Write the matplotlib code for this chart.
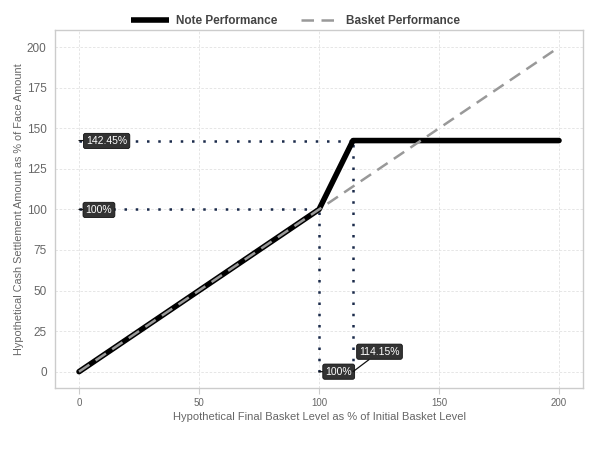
import matplotlib
matplotlib.use("Agg")
import matplotlib.pyplot as plt

plt.rcParams['font.family'] = ['Liberation Sans', 'DejaVu Sans']

# Data
basket_x = [0, 200]
basket_y = [0, 200]
note_x = [0, 100, 114.15, 200]
note_y = [0, 100, 142.45, 142.45]
cap_level = 114.15
cap_return = 142.45
par_level = 100
par_return = 100
x_ticks = [0, 50, 100, 150, 200]
y_ticks = [0, 25, 50, 75, 100, 125, 150, 175, 200]

fig = plt.figure(figsize=(6, 4.5), dpi=100)
ax = fig.add_axes([0.0917, 0.138, 0.88, 0.795])

grid_c = '#e2e2e2'
ax.set_xlim(-10, 210)
ax.set_ylim(-10, 210.5)
ax.set_xticks(x_ticks)
ax.set_yticks(y_ticks)
ax.grid(True, color=grid_c, linestyle=(0, (3, 2)), linewidth=0.6)
ax.set_axisbelow(True)
for s in ax.spines.values():
    s.set_color('#cccccc')
    s.set_linewidth(1.0)
ax.tick_params(axis='x', length=4, color='#cccccc', labelsize=7, labelcolor='#666666', pad=3)
ax.tick_params(axis='y', length=0, labelsize=8.5, labelcolor='#666666', pad=6)

dot_c = '#1a2a4a'
ax.plot([0, cap_level], [cap_return, cap_return], linestyle=(0, (1, 3.5)), color=dot_c, lw=1.8, zorder=2)
ax.plot([0, par_level], [par_return, par_return], linestyle=(0, (1, 3.5)), color=dot_c, lw=1.8, zorder=2)
ax.plot([par_level, par_level], [0, par_return], linestyle=(0, (1, 3.5)), color=dot_c, lw=1.8, zorder=2)
ax.plot([cap_level, cap_level], [0, cap_return], linestyle=(0, (1, 3.5)), color=dot_c, lw=1.8, zorder=2)

ax.plot(note_x, note_y, color='black', lw=4, solid_capstyle='round', zorder=3, label='Note Performance')
ax.plot(basket_x, basket_y, color='#999999', lw=1.8, linestyle=(0, (5, 3)), zorder=4, label='Basket Performance')

bbox = dict(boxstyle='round,pad=0.25,rounding_size=0.2', fc='#333333', ec='#111111', lw=0.6)
arrow = dict(arrowstyle='-', color='#111111', lw=0.9, shrinkA=0, shrinkB=0)
labels = [
    ('142.45%', (0, cap_return), (11.5, 142.2)),
    ('100%', (0, par_return), (8.3, 99.7)),
    ('100%', (par_level, 0), (108.2, 0)),
    ('114.15%', (cap_level, 0), (125.2, 12.3)),
]
for txt, xy, xyt in labels:
    ax.annotate(txt, xy=xy, xytext=xyt, textcoords='data', ha='center', va='center',
                color='white', fontsize=7.5, bbox=bbox, arrowprops=arrow, zorder=6)

ax.set_xlabel('Hypothetical Final Basket Level as % of Initial Basket Level', color='#666666', fontsize=8, labelpad=3)
ax.set_ylabel('Hypothetical Cash Settlement Amount as % of Face Amount', color='#666666', fontsize=7.8, labelpad=2)

leg = fig.legend(handles=ax.get_lines()[4:6], loc='center', bbox_to_anchor=(0.493, 0.953), ncol=2,
                 frameon=False, fontsize=8.5, handlelength=3.2, columnspacing=2.0, handletextpad=0.6)
for t in leg.get_texts():
    t.set_fontweight('bold')
    t.set_color('#444444')
leg.get_lines()[0].set_solid_capstyle('butt')

fig.savefig('out.png', dpi=100)
